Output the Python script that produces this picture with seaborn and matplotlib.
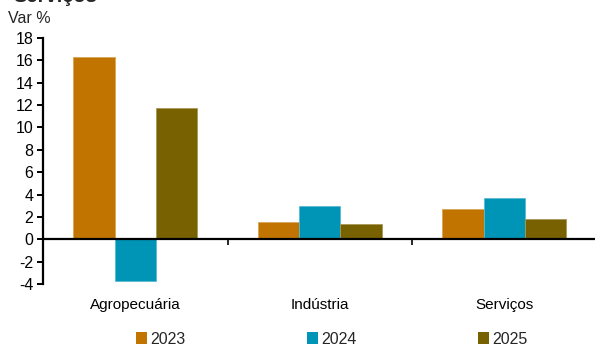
import matplotlib
matplotlib.use("Agg")
import matplotlib.pyplot as plt
import matplotlib.colors as mcolors
from matplotlib.patches import Patch
from matplotlib.ticker import FixedLocator
import numpy as np
import pandas as pd
import seaborn as sns

# Data: year-over-year change (%) by sector
setores = ["Agropecuária", "Indústria", "Serviços"]
anos = ["2023", "2024", "2025"]
v2023 = [16.3, 1.6, 2.7]
v2024 = [-3.7, 3.0, 3.7]
v2025 = [11.7, 1.4, 1.8]
cores = ["#C17500", "#0094B6", "#776100"]
yticks = list(range(-4, 20, 2))

df = pd.DataFrame({
    "setor": setores * 3,
    "ano": [a for a in anos for _ in setores],
    "valor": v2023 + v2024 + v2025,
})

sns.set_style("white")
plt.rcParams["font.family"] = ["Liberation Sans", "DejaVu Sans"]
plt.rcParams["font.size"] = 11

fig = plt.figure(figsize=(5.95, 3.47), dpi=100)
ax = fig.add_axes([0.0723, 0.1807, 0.9302, 0.7101])

sns.barplot(data=df, x="setor", y="valor", hue="ano", order=setores,
            hue_order=anos, palette=cores, saturation=1, width=0.67, gap=0,
            linewidth=0, legend=False, ax=ax)

# thin lighter outline around each bar
for p in ax.patches:
    fc = np.array(mcolors.to_rgb(p.get_facecolor()))
    p.set_edgecolor(tuple(fc + (1 - fc) * 0.35))
    p.set_linewidth(0.6)

ax.set_xlim(-0.5, 2.5)
ax.set_ylim(-4, 18)
ax.set_xlabel("")
ax.set_ylabel("")

for s in ["top", "right"]:
    ax.spines[s].set_visible(False)
ax.spines["left"].set_linewidth(1.6)
ax.spines["left"].set_color("black")
ax.spines["bottom"].set_position(("data", 0))
ax.spines["bottom"].set_linewidth(1.6)
ax.spines["bottom"].set_color("black")

ax.set_yticks(yticks)
ax.set_yticklabels([str(t) for t in yticks])
ax.tick_params(axis="y", direction="out", length=4, width=1.4, pad=3,
               labelsize=11.5, left=True, colors="black")

# category separators as major ticks, category names as minor tick labels
ax.xaxis.set_major_locator(FixedLocator([0.5, 1.5]))
ax.set_xticklabels(["", ""])
ax.xaxis.set_minor_locator(FixedLocator([0, 1, 2]))
ax.set_xticklabels(setores, minor=True)
ax.tick_params(axis="x", which="major", direction="out", length=4, width=1.4,
               bottom=True)
ax.tick_params(axis="x", which="minor", length=0, pad=42, labelsize=11,
               colors="black")

fig.text(8 / 595, 1 - 23 / 347, "Var %", fontsize=11.5, ha="left",
         va="baseline")
fig.text(13 / 595, 1 - 2 / 347, "Serviços", fontsize=14.5,
         fontweight="bold", ha="left", va="baseline")

handles = [Patch(facecolor=c, edgecolor="none") for c in cores]
fig.legend(handles, anos, loc="center", bbox_to_anchor=(332 / 595, 1 - 339 / 347),
           ncol=3, frameon=False, fontsize=11.5, handlelength=0.7,
           handleheight=0.7, handletextpad=0.2, columnspacing=7.6,
           borderaxespad=0, borderpad=0)

fig.savefig("out.png", dpi=100)
